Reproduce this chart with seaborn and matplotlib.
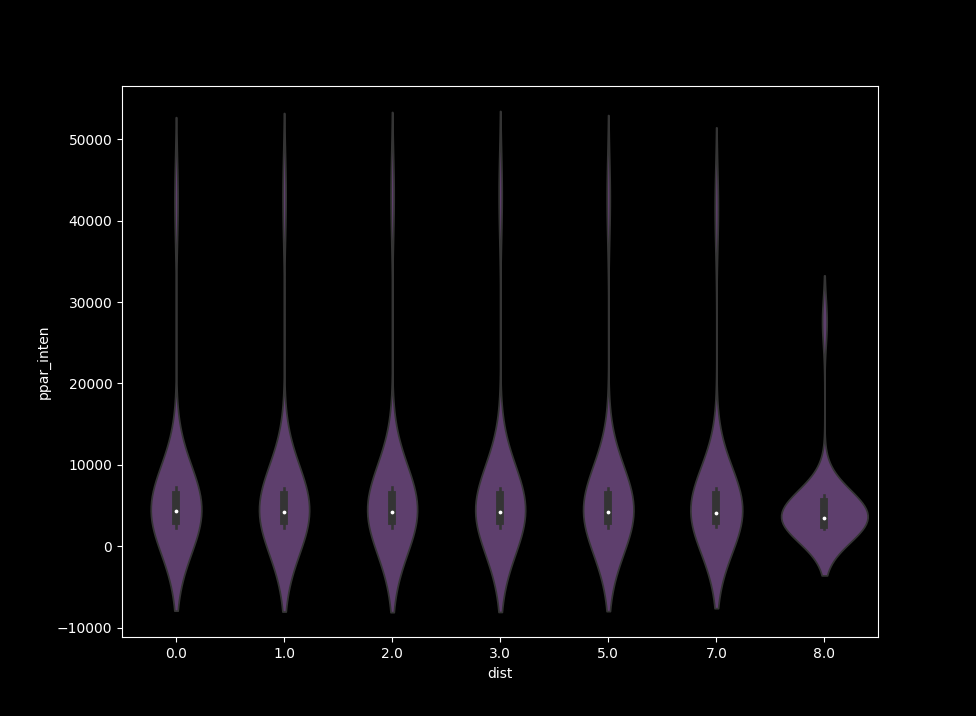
import pandas as pd
import numpy as np
import matplotlib
matplotlib.use("Agg")
import matplotlib.pyplot as plt
import seaborn as sns

dist_levels = [0.0, 1.0, 2.0, 3.0, 5.0, 7.0, 8.0]
inten_d0 = [2300, 2550, 2750, 2950, 3050, 3300, 3700, 4000, 4200,
            4400, 4900, 5600, 6150, 6350, 6800, 7050, 7250, 42500]
inten_d1 = [2300, 2550, 2750, 2950, 3050, 3300, 3650, 3950, 4100,
            4300, 4850, 5550, 6150, 6350, 6750, 7000, 7200, 42900]
inten_d2 = [2250, 2500, 2700, 2950, 3100, 3350, 3700, 3950, 4100,
            4350, 4900, 5600, 6200, 6400, 6800, 7100, 7300, 43000]
inten_d3 = [2300, 2550, 2750, 2950, 3050, 3300, 3650, 3950, 4100,
            4300, 4850, 5550, 6150, 6350, 6750, 7000, 7200, 43100]
inten_d5 = [2300, 2550, 2750, 2950, 3050, 3300, 3650, 3950, 4100,
            4300, 4850, 5550, 6150, 6350, 6750, 7000, 7200, 42700]
inten_d7 = [2350, 2600, 2800, 3000, 3100, 3300, 3600, 3850, 4000,
            4200, 4750, 5500, 6100, 6300, 6700, 6950, 7150, 41500]
inten_d8 = [2100, 2200, 2300, 2350, 2450, 2550, 2800, 2950, 3100, 3250, 3400,
            3500, 3700, 3950, 4300, 5200, 5450, 5650, 5850, 6050, 6300, 27600]

samples = [inten_d0, inten_d1, inten_d2, inten_d3, inten_d5, inten_d7, inten_d8]
rows = []
for d, vals in zip(dist_levels, samples):
    for v in vals:
        rows.append({'dist': d, 'ppar_inten': v})
df = pd.DataFrame(rows)

plt.style.use('dark_background')
fig, ax = plt.subplots(figsize=(9.76, 7.16), dpi=100)
sns.violinplot(data=df, x='dist', y='ppar_inten', color='#5e3f6d',
               saturation=1, inner_kws=dict(marker='o', markersize=1.6),
               ax=ax)
ax.set_xlabel('dist')
ax.set_ylabel('ppar_inten')

fig.savefig('out.png', dpi=100)
